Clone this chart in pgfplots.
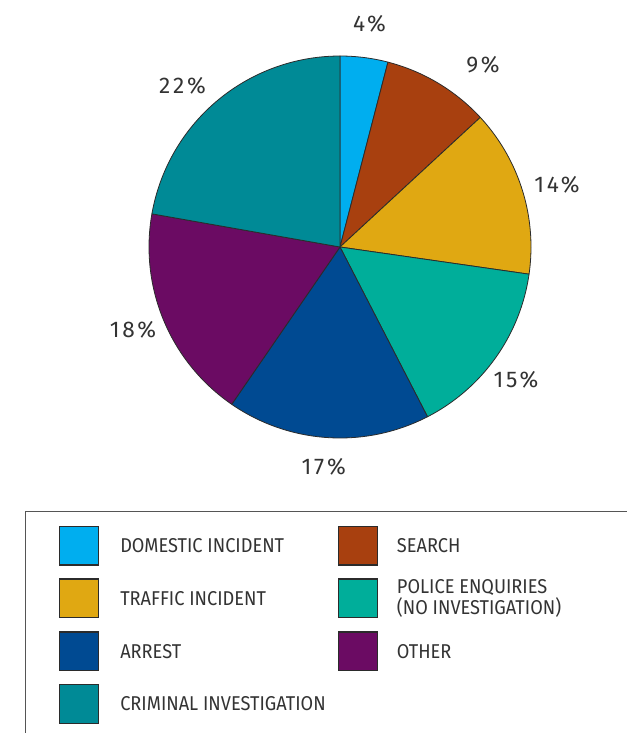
\documentclass[border=0pt]{standalone}
\usepackage{fontspec}
\setmainfont{Fira Sans}
\newfontfamily\legfont[FakeStretch=0.91]{Fira Sans}
\newfontfamily\pctfont[LetterSpace=12]{Fira Sans}
\usepackage{pgfplots}
\usepackage{pgfplotstable}
\pgfplotsset{compat=1.18}

\definecolor{cdom}{HTML}{00AEEF}
\definecolor{csea}{HTML}{A8400F}
\definecolor{ctra}{HTML}{E0A812}
\definecolor{cpol}{HTML}{00AE9A}
\definecolor{carr}{HTML}{004A92}
\definecolor{coth}{HTML}{6B0B63}
\definecolor{ccri}{HTML}{008A96}
\definecolor{pieline}{HTML}{2B2B2B}
\definecolor{txt}{HTML}{333333}
\definecolor{boxline}{HTML}{555555}

% share (%) of each category, clockwise from the top
\pgfplotstableread{
val col
4  cdom
9  csea
14 ctra
15 cpol
17 carr
18 coth
22 ccri
}\piedata

\begin{document}
\begin{tikzpicture}
\begin{axis}[
  hide axis, scale only axis,
  width=470.25pt, height=549.75pt,
  xmin=-1.7801, xmax=1.5026, ymin=-2.5445, ymax=1.2932,
  clip=false, at={(0,0)}, anchor=south west]
% total
\pgfplotstablegetrowsof{\piedata}
\pgfmathtruncatemacro\nrows{\pgfplotsretval-1}
\gdef\tot{0}
\pgfplotsforeachungrouped \i in {0,...,\nrows}{%
  \pgfplotstablegetelem{\i}{val}\of\piedata
  \pgfmathsetmacro\tmp{\tot+\pgfplotsretval}%
  \global\let\tot\tmp}
\gdef\cum{0}
\pgfplotsforeachungrouped \i in {0,...,\nrows}{%
  \pgfplotstablegetelem{\i}{val}\of\piedata
  \let\sliceval\pgfplotsretval
  \pgfplotstablegetelem{\i}{col}\of\piedata
  \let\slicecol\pgfplotsretval
  \pgfmathsetmacro\hi{90-\cum/\tot*360}%
  \pgfmathsetmacro\cumnew{\cum+\sliceval}%
  \pgfmathsetmacro\lo{90-\cumnew/\tot*360}%
  \edef\cmd{\noexpand\addplot[fill=\slicecol, draw=pieline, line width=0.6pt, line join=round,
     domain=\lo:\hi, samples=90] ({cos(x)},{sin(x)}) -- (axis cs:0,0) -- cycle;}%
  \cmd
  \global\let\cum\cumnew}

% percentage labels
\begin{scope}[every node/.style={text=txt, font=\pctfont\fontsize{17}{17}\selectfont, inner sep=0pt}]
\node at (axis cs:0.1545,1.1675) {4\%};
\node at (axis cs:0.7487,0.9529) {9\%};
\node at (axis cs:1.1361,0.3246) {14\%};
\node at (axis cs:0.9215,-0.6963) {15\%};
\node at (axis cs:-0.0853,-1.1492) {17\%};
\node at (axis cs:-1.0838,-0.4346) {18\%};
\node at (axis cs:-0.8246,0.8456) {22\%};
\end{scope}

% legend frame
\draw[boxline, line width=1pt] (axis cs:1.6,-1.3859) -- (axis cs:-1.6455,-1.3859) -- (axis cs:-1.6455,-2.7);

% legend swatches
\begin{scope}[pieline, line width=0.8pt]
\filldraw[fill=cdom] (axis cs:-1.4686,-1.4623) rectangle (axis cs:-1.2665,-1.6649);
\filldraw[fill=ctra] (axis cs:-1.4686,-1.7382) rectangle (axis cs:-1.2665,-1.9408);
\filldraw[fill=carr] (axis cs:-1.4686,-2.0157) rectangle (axis cs:-1.2665,-2.2183);
\filldraw[fill=ccri] (axis cs:-1.4686,-2.2916) rectangle (axis cs:-1.2665,-2.4937);
\filldraw[fill=csea] (axis cs:-0.0068,-1.4623) rectangle (axis cs:0.1953,-1.6649);
\filldraw[fill=cpol] (axis cs:-0.0068,-1.7382) rectangle (axis cs:0.1953,-1.9408);
\filldraw[fill=coth] (axis cs:-0.0068,-2.0157) rectangle (axis cs:0.1953,-2.2183);
\end{scope}

% legend texts
\begin{scope}[every node/.style={text=txt, anchor=west, inner sep=0pt, align=left,
   font=\legfont\fontsize{15}{13.8}\selectfont}]
\node at (axis cs:-1.1518,-1.5636) {DOMESTIC INCIDENT};
\node at (axis cs:-1.1518,-1.8395) {TRAFFIC INCIDENT};
\node at (axis cs:-1.1518,-2.1170) {ARREST};
\node at (axis cs:-1.1518,-2.3927) {CRIMINAL INVESTIGATION};
\node at (axis cs:0.2969,-1.5636) {SEARCH};
\node at (axis cs:0.2969,-1.8395) {POLICE ENQUIRIES\\(NO INVESTIGATION)};
\node at (axis cs:0.2969,-2.1170) {OTHER};
\end{scope}
\end{axis}
\pgfresetboundingbox
\path (0,0) rectangle (470.25pt,549.75pt);
\end{tikzpicture}
\end{document}
